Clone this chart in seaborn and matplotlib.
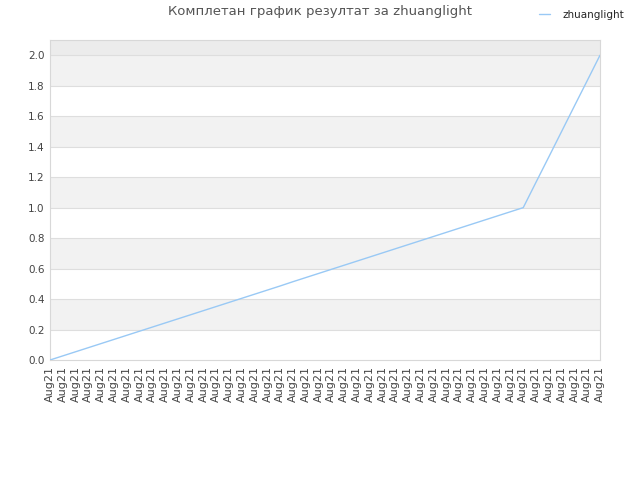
import numpy as np
import pandas as pd
import matplotlib
matplotlib.use("Agg")
import matplotlib.pyplot as plt
import seaborn as sns

# cumulative result per round, all rounds in Aug21
scores = [0.0, 0.027, 0.054, 0.081, 0.108, 0.135, 0.162, 0.189, 0.216, 0.243,
          0.270, 0.297, 0.324, 0.351, 0.378, 0.405, 0.432, 0.459, 0.486, 0.514,
          0.541, 0.568, 0.595, 0.622, 0.649, 0.676, 0.703, 0.730, 0.757, 0.784,
          0.811, 0.838, 0.865, 0.892, 0.919, 0.946, 0.973, 1.0,
          1.167, 1.333, 1.5, 1.667, 1.833, 2.0]
tick_labels = ["Aug21"] * len(scores)
player = "zhuanglight"

d = pd.DataFrame({"round": range(len(scores)), "score": scores})

sns.set_style("white")
plt.rcParams["font.family"] = ["DejaVu Sans"]

fig = plt.figure(figsize=(6.4, 4.8), dpi=100)
ax = fig.add_axes([50 / 640, 120 / 480, 550 / 640, 320 / 480])

# alternating bands
ystep = 0.2
for i in range(11):
    lo = i * ystep
    hi = min(lo + ystep, 2.1)
    if i == 10:
        ax.axhspan(lo, hi, color="#ececec", zorder=0, lw=0)
    elif i % 2 == 1:
        ax.axhspan(lo, hi, color="#f2f2f2", zorder=0, lw=0)
for y in np.arange(0.2, 2.01, 0.2):
    ax.axhline(y, color="#dedede", lw=0.8, zorder=1)

sns.lineplot(data=d, x="round", y="score", color="#99c9f5", lw=1.0,
             ax=ax, label=player, zorder=3)

ax.set_xlim(0, len(scores) - 1)
ax.set_ylim(0, 2.1)
ax.set_xticks(range(len(scores)))
ax.set_xticklabels(tick_labels, rotation=90, fontsize=8, color="#444444")
ax.set_yticks(np.arange(0, 2.01, 0.2))
ax.set_yticklabels(["%.1f" % v for v in np.arange(0, 2.01, 0.2)],
                   fontsize=7.5, color="#444444")
ax.tick_params(axis="both", length=0, pad=4)
ax.set_xlabel("")
ax.set_ylabel("")
for s in ax.spines.values():
    s.set_color("#d8d8d8")
    s.set_linewidth(0.8)

ax.legend(loc="center left", bbox_to_anchor=(530 / 640, 1 - 15 / 480),
          bbox_transform=fig.transFigure, frameon=False, fontsize=7.5,
          handlelength=1.0, handletextpad=1.2)

fig.text(320 / 640, 1 - 12 / 480, "Комплетан график резултат за " + player,
         ha="center", va="center", fontsize=9.5, color="#555555")

fig.savefig("out.png", dpi=100)
